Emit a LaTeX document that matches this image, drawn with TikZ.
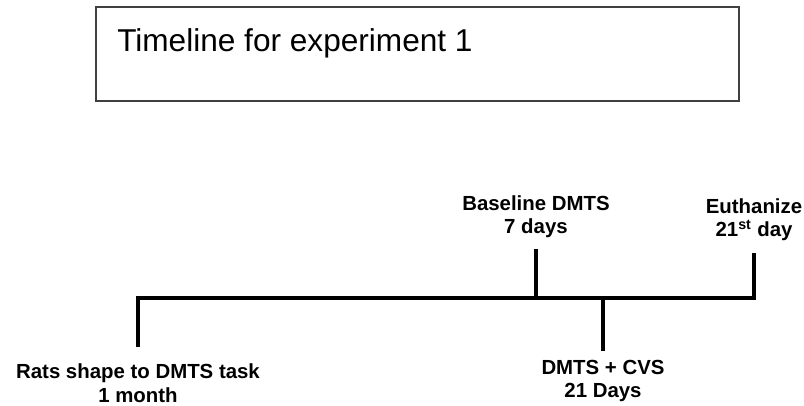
\documentclass[tikz,border=0pt]{standalone}
\usepackage{fontspec}
\setmainfont{Liberation Sans}
\usetikzlibrary{positioning}
\begin{document}
\begin{tikzpicture}[x=0.75pt,y=-0.75pt,line join=miter,
	lbl/.style={font=\bfseries\fontsize{15.3}{17.8}\selectfont,align=center,inner sep=0pt}]
	\useasboundingbox (0,0) rectangle (804,406);
	% title box
	\coordinate (T1) at (96,7);
	\coordinate (T2) at (739,101);
	\draw[line width=1.2pt,black!75] (T1) rectangle (T2);
	\node[anchor=base west,inner sep=0pt,font=\fontsize{23.7}{28}\selectfont] (title) at (117,52) {Timeline for experiment 1};
	% timeline and ticks
	\coordinate (R) at (138,298);
	\coordinate (B) at (536,298);
	\coordinate (C) at (603,298);
	\coordinate (E) at (754,298);
	\coordinate (Rt) at (138,347);
	\coordinate (Bt) at (536,249);
	\coordinate (Ct) at (603,351);
	\coordinate (Et) at (754,253);
	\draw[line width=3.4pt] (Rt) -- (R) -- (E) -- (Et) (B) -- (Bt) (C) -- (Ct);
	% labels
	\node[lbl,below=12.5pt of Rt] (rats) {Rats shape to DMTS task\\1 month};
	\node[lbl,above=8pt of Bt] (base) {Baseline DMTS\\7 days};
	\node[lbl,below=6.5pt of Ct] (cvs) {DMTS + CVS\\21 Days};
	\node[lbl,above=8.8pt of Et] (euth) {Euthanize\\21\textsuperscript{st} day};
\end{tikzpicture}
\end{document}
